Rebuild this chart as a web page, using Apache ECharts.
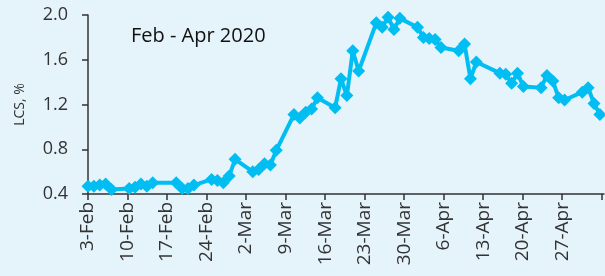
<!DOCTYPE html>
<html>
<head>
<meta charset="utf-8">
<script src="https://cdn.jsdelivr.net/npm/echarts@6/dist/echarts.min.js"></script>
<style>
  html, body { margin: 0; padding: 0; background: #e5f3fb; }
  #chart { width: 605px; height: 276px; }
</style>
</head>
<body>
<div id="chart"></div>
<script>
// trading days (17-Feb and 10-Apr closed)
const dates = [
  '2020-02-03', '2020-02-04', '2020-02-05', '2020-02-06', '2020-02-07',
  '2020-02-10', '2020-02-11', '2020-02-12', '2020-02-13', '2020-02-14',
  '2020-02-18', '2020-02-19', '2020-02-20', '2020-02-21',
  '2020-02-24', '2020-02-25', '2020-02-26', '2020-02-27', '2020-02-28',
  '2020-03-02', '2020-03-03', '2020-03-04', '2020-03-05', '2020-03-06',
  '2020-03-09', '2020-03-10', '2020-03-11', '2020-03-12', '2020-03-13',
  '2020-03-16', '2020-03-17', '2020-03-18', '2020-03-19', '2020-03-20',
  '2020-03-23', '2020-03-24', '2020-03-25', '2020-03-26', '2020-03-27',
  '2020-03-30', '2020-03-31', '2020-04-01', '2020-04-02', '2020-04-03',
  '2020-04-06', '2020-04-07', '2020-04-08', '2020-04-09',
  '2020-04-13', '2020-04-14', '2020-04-15', '2020-04-16', '2020-04-17',
  '2020-04-20', '2020-04-21', '2020-04-22', '2020-04-23', '2020-04-24',
  '2020-04-27', '2020-04-28', '2020-04-29', '2020-04-30'
];

const lcs = [
  0.47, 0.47, 0.48, 0.49, 0.44,
  0.45, 0.46, 0.49, 0.47, 0.50,
  0.50, 0.45, 0.45, 0.48,
  0.53, 0.52, 0.50, 0.56, 0.71,
  0.60, 0.62, 0.67, 0.66, 0.79,
  1.11, 1.08, 1.13, 1.16, 1.26,
  1.17, 1.43, 1.28, 1.68, 1.50,
  1.93, 1.89, 1.98, 1.87, 1.97,
  1.89, 1.80, 1.79, 1.78, 1.71,
  1.68, 1.74, 1.43, 1.58,
  1.48, 1.47, 1.39, 1.48, 1.36,
  1.35, 1.46, 1.41, 1.26, 1.24,
  1.31, 1.35, 1.21, 1.11
];

const tickLabels = [
  '3-Feb', '10-Feb', '17-Feb', '24-Feb', '2-Mar', '9-Mar', '16-Mar',
  '23-Mar', '30-Mar', '6-Apr', '13-Apr', '20-Apr', '27-Apr'
];

const yTicks = [0.4, 0.8, 1.2, 1.6, 2.0];

const DAY = 86400000;
const start = Date.UTC(2020, 1, 3);
const dayIndex = s => {
  const p = s.split('-').map(Number);
  return Math.round((Date.UTC(p[0], p[1] - 1, p[2]) - start) / DAY);
};
const seriesData = dates.map((d, i) => [dayIndex(d), lcs[i]]);

const FONT = 'Open Sans';
const chart = echarts.init(document.getElementById('chart'));
chart.setOption({
  backgroundColor: '#e5f3fb',
  animation: false,
  title: {
    text: 'Feb - Apr 2020',
    left: 126,
    top: 21,
    textStyle: { fontFamily: FONT, fontSize: 20, fontWeight: 'normal', color: '#111' }
  },
  grid: { left: 88, right: 1, top: 15, bottom: 82 },
  xAxis: [
    {
      type: 'value',
      min: 0,
      max: 91.4,
      interval: 7,
      splitLine: { show: false },
      axisLine: { show: true, lineStyle: { color: '#333', width: 1.5 } },
      axisTick: { show: true, length: 6, lineStyle: { color: '#333', width: 1.5 } },
      axisLabel: {
        rotate: 90,
        margin: 8,
        fontFamily: FONT,
        fontSize: 19,
        color: '#333',
        showMaxLabel: false,
        formatter: v => tickLabels[v / 7] || ''
      }
    },
    {
      type: 'value',
      min: 0,
      max: 87.7,
      show: false
    }
  ],
  yAxis: {
    type: 'value',
    min: yTicks[0],
    max: yTicks[yTicks.length - 1],
    interval: 0.4,
    name: 'LCS, %',
    nameLocation: 'middle',
    nameGap: 61,
    nameTextStyle: { fontFamily: FONT, fontSize: 14, color: '#333' },
    splitLine: { show: false },
    axisLine: { show: true, lineStyle: { color: '#333', width: 1.5 } },
    axisTick: { show: true, length: 6, lineStyle: { color: '#333', width: 1.5 } },
    axisLabel: {
      margin: 20,
      fontFamily: FONT,
      fontSize: 18,
      color: '#333',
      formatter: v => v.toFixed(1)
    }
  },
  series: [
    {
      type: 'line',
      xAxisIndex: 1,
      data: seriesData,
      symbol: 'diamond',
      symbolSize: 13,
      showAllSymbol: true,
      lineStyle: { color: '#00bdf2', width: 4 },
      itemStyle: { color: '#00bdf2' }
    }
  ]
});
</script>
</body>
</html>
